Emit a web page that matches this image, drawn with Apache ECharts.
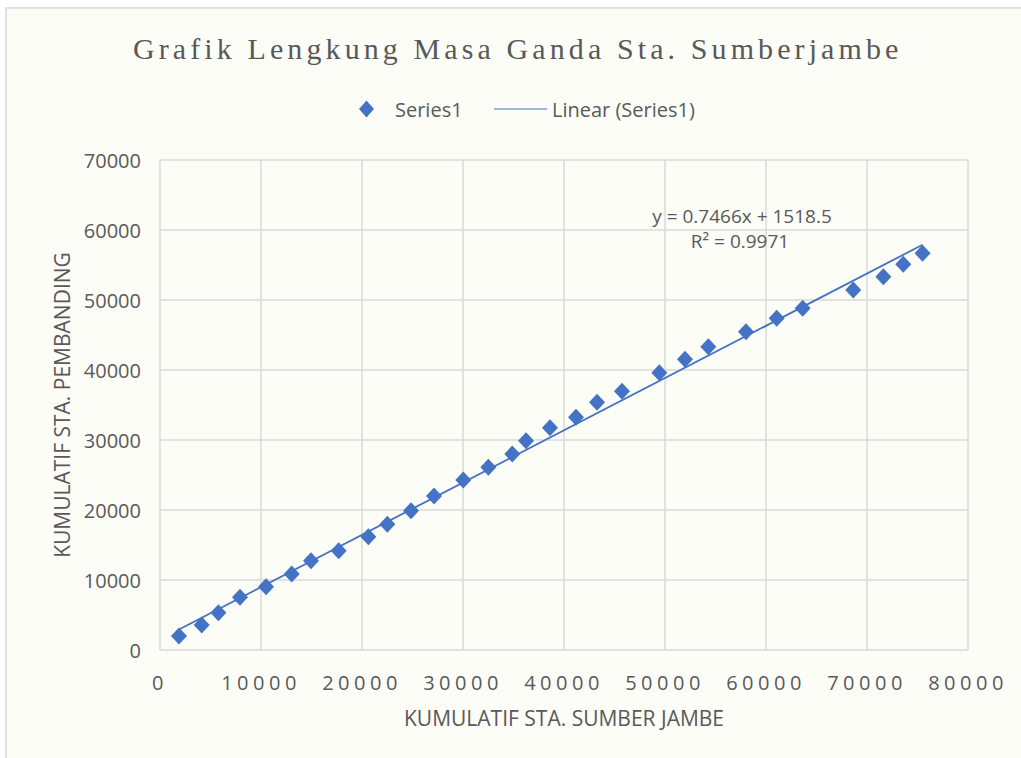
<!DOCTYPE html>
<html>
<head>
<meta charset="utf-8">
<script src="https://cdn.jsdelivr.net/npm/echarts@6/dist/echarts.min.js"></script>
<style>
html,body{margin:0;padding:0;background:#ffffff;}
#chart{width:1021px;height:758px;}
#chart text[style*="Liberation Serif"], #chart text[font-family*="Liberation Serif"]{letter-spacing:4.1px;}
#chart text[style*="DejaVu Sans"], #chart text[font-family*="DejaVu Sans"]{letter-spacing:4.5px;}
</style>
</head>
<body>
<div id="chart"></div>
<script>
// ---- data ----
const xValues = [1880, 4130, 5780, 7920, 10500, 13040, 14950, 17690, 20630, 22510,
                 24850, 27130, 30030, 32510, 34880, 36240, 38610, 41190, 43270, 45740,
                 49440, 51980, 54290, 58020, 61060, 63630, 68640, 71620, 73590, 75500];
const yValues = [2000, 3570, 5330, 7530, 9040, 10860, 12760, 14190, 16190, 17950,
                 19900, 22000, 24290, 26100, 28000, 29900, 31760, 33240, 35390, 36960,
                 39610, 41530, 43330, 45470, 47390, 48810, 51430, 53330, 55100, 56670];
const xTicks = [0, 10000, 20000, 30000, 40000, 50000, 60000, 70000, 80000];
const yTicks = [0, 10000, 20000, 30000, 40000, 50000, 60000, 70000];
const trendSlope = 0.7466;
const trendIntercept = 1518.5;
const trendR2 = 0.9971;
const titleText = 'Grafik Lengkung Masa Ganda Sta. Sumberjambe';
const xName = 'KUMULATIF STA. SUMBER JAMBE';
const yName = 'KUMULATIF STA. PEMBANDING';
const seriesName = 'Series1';
const trendName = 'Linear (Series1)';

// ---- build ----
const points = xValues.map((x, i) => [x, yValues[i]]);
const xMinData = Math.min(...xValues), xMaxData = Math.max(...xValues);
const trendPoints = [xMinData, xMaxData].map(x => [x, trendSlope * x + trendIntercept]);
const eqText = 'y = ' + trendSlope + 'x + ' + trendIntercept;

const txt = '#595959';
const grid = '#d9d9d9';
const blue = '#4472C4';
const sans = 'Open Sans';
const plain = v => String(v);

const chart = echarts.init(document.getElementById('chart'), null, {renderer: 'svg'});
chart.setOption({
  backgroundColor: '#ffffff',
  animation: false,
  graphic: [
    {type: 'rect', z: -10, silent: true,
     shape: {x: 6, y: 8, width: 1100, height: 1000},
     style: {fill: '#fdfdf8', stroke: grid, lineWidth: 1.5}},
    {type: 'text', z: 10, x: 742, y: 216,
     style: {text: eqText, fill: txt, font: '19px "Open Sans"', align: 'center', verticalAlign: 'middle'}},
    {type: 'text', z: 10, x: 740, y: 241,
     style: {text: 'R² = ' + trendR2, fill: txt, font: '19px "Open Sans"', align: 'center', verticalAlign: 'middle'}}
  ],
  title: {
    text: titleText,
    left: 128,
    top: 28,
    textStyle: {fontFamily: 'Liberation Serif', fontWeight: 'normal', fontSize: 30, color: txt}
  },
  legend: [
    {data: [{name: seriesName, icon: 'diamond'}], left: 354, top: 94, itemWidth: 15, itemHeight: 17,
     textStyle: {color: txt, fontFamily: sans, fontSize: 20, padding: [0, 0, 0, 16]}},
    {data: [{name: trendName, icon: 'path://M0,0L100,0L100,2L0,2Z'}], left: 489, top: 94,
     itemWidth: 53, itemHeight: 2, itemGap: 0,
     textStyle: {color: txt, fontFamily: sans, fontSize: 20}}
  ],
  grid: {left: 160, right: 53, top: 160, bottom: 108, containLabel: false},
  xAxis: {
    type: 'value',
    min: xTicks[0], max: xTicks[xTicks.length - 1], interval: xTicks[1] - xTicks[0],
    name: xName, nameLocation: 'middle', nameGap: 57,
    nameTextStyle: {color: txt, fontFamily: sans, fontSize: 21},
    axisLine: {show: false}, axisTick: {show: false},
    axisLabel: {color: txt, fontFamily: "'Open Sans', 'DejaVu Sans'", fontSize: 20, margin: 22, formatter: plain},
    splitLine: {show: true, lineStyle: {color: grid, width: 1.5}}
  },
  yAxis: {
    type: 'value',
    min: yTicks[0], max: yTicks[yTicks.length - 1], interval: yTicks[1] - yTicks[0],
    name: yName, nameLocation: 'middle', nameGap: 88,
    nameTextStyle: {color: txt, fontFamily: sans, fontSize: 21},
    axisLine: {show: false}, axisTick: {show: false},
    axisLabel: {color: txt, fontFamily: sans, fontSize: 20, margin: 19, formatter: plain},
    splitLine: {show: true, lineStyle: {color: grid, width: 1.5}}
  },
  series: [
    {name: trendName, type: 'line', data: trendPoints, showSymbol: false, symbol: 'none',
     lineStyle: {color: blue, width: 1.8}, itemStyle: {color: blue}, z: 2},
    {name: seriesName, type: 'scatter', data: points, symbol: 'diamond', symbolSize: [16, 17],
     itemStyle: {color: blue, opacity: 1}, z: 3}
  ]
});
</script>
</body>
</html>
